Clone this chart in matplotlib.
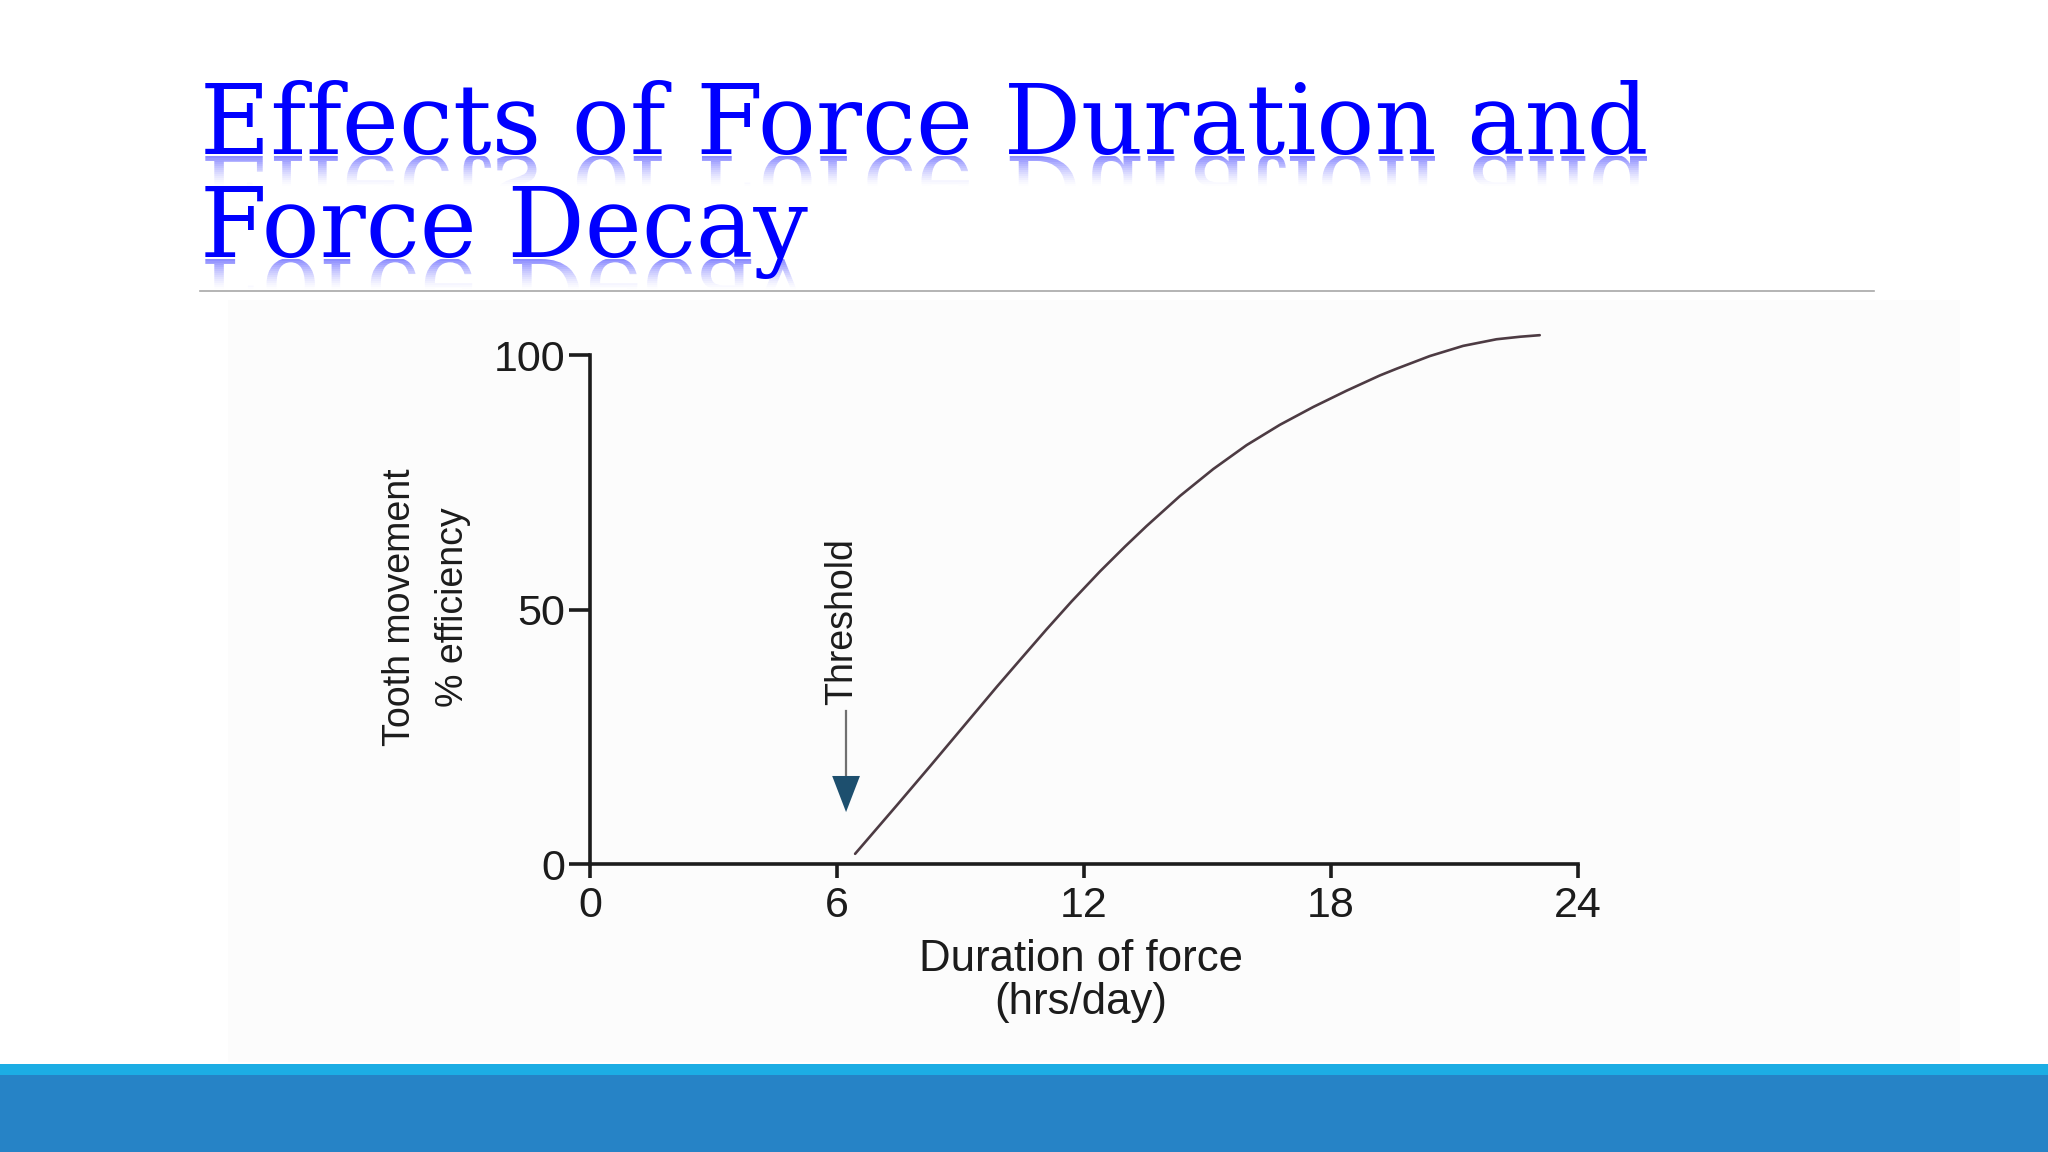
import matplotlib
matplotlib.use("Agg")
import matplotlib.pyplot as plt
from matplotlib.textpath import TextPath
from matplotlib.patches import PathPatch, Rectangle
from matplotlib.lines import Line2D
from matplotlib.font_manager import FontProperties
from matplotlib.transforms import Affine2D, Bbox

# ---------------- data ----------------
title_lines = ["Effects of Force Duration and", "Force Decay"]
hours = [6.44, 7.45, 8.26, 9.07, 9.88, 10.5, 11.09, 11.7, 12.39, 13.0, 13.52,
         14.33, 15.14, 15.95, 16.76, 17.57, 18.38, 19.19, 19.59, 20.40, 21.21,
         22.02, 22.6, 23.07]
efficiency = [2.0, 11.5, 19.2, 27.0, 34.8, 40.6, 46.1, 51.6, 57.5, 62.4, 66.4,
              72.3, 77.6, 82.3, 86.3, 89.8, 93.0, 96.0, 97.3, 99.8, 101.8,
              103.1, 103.6, 103.9]
x_ticks = [0, 6, 12, 18, 24]
y_ticks = [0, 50, 100]
x_label = "Duration of force\n(hrs/day)"
y_label = "Tooth movement\n% efficiency"
threshold_label = "Threshold"
threshold_hours = 6.22
arrow_top = 30.0
arrow_tip = 10.2

# ---------------- figure ----------------
W, H, DPI = 2048, 1152, 100
plt.rcParams["font.family"] = ["Liberation Sans", "DejaVu Sans"]
fig = plt.figure(figsize=(W / DPI, H / DPI), dpi=DPI, facecolor="white")

# very subtle background of the pasted chart picture
fig.add_artist(Rectangle((228 / W, 1 - 1062 / H), (1960 - 228) / W, (1062 - 300) / H,
                         transform=fig.transFigure, facecolor="#fcfcfc",
                         edgecolor="none", zorder=0))

# bottom bands
fig.add_artist(Rectangle((0, 0), 1, (H - 1075) / H, transform=fig.transFigure,
                         facecolor="#2683C6", edgecolor="none", zorder=1))
fig.add_artist(Rectangle((0, (H - 1075) / H), 1, 11 / H, transform=fig.transFigure,
                         facecolor="#1CADE4", edgecolor="none", zorder=1))

# separator under title
fig.add_artist(Line2D([200 / W, 1874 / W], [1 - 291 / H] * 2, transform=fig.transFigure,
                      color="#a8a8a8", lw=1.2))

# ---------------- title with reflection ----------------
title_color = "#0000FF"
title_size = 69.5
title_fp = FontProperties(family="DejaVu Serif", size=title_size)
title_x_px = 200
title_baselines_px = [154, 257]
gap = 2
n_bands, band = 15, 2
for line, base_px in zip(title_lines, title_baselines_px):
    fig.text(title_x_px / W, 1 - base_px / H, line, fontproperties=title_fp,
             color=title_color, ha="left", va="baseline", zorder=3)
    tp = TextPath((0, 0), line, size=title_size * DPI / 72, prop=title_fp)
    ybase = H - base_px
    tr = Affine2D().scale(1, -1).translate(title_x_px, ybase - gap)
    for i in range(n_bands):
        y_top = ybase - gap - i * band
        patch = PathPatch(tp, transform=tr, facecolor=title_color, edgecolor="none",
                          alpha=0.45 * (1 - i / n_bands) ** 1.5, zorder=2)
        patch.set_clip_box(Bbox.from_extents(0, y_top - band, W, y_top))
        fig.add_artist(patch)

# ---------------- chart ----------------
ink = "#1c1c1c"
ax = fig.add_axes([590 / W, 1 - 864 / H, 988 / W, (864 - 324.5) / H])
ax.set_facecolor("none")
ax.plot(hours, efficiency, color="#4d3b43", lw=1.9, solid_joinstyle="round",
        solid_capstyle="round")
ax.set_xlim(0, 24)
ax.set_ylim(0, 106)
ax.spines[["top", "right"]].set_visible(False)
ax.spines["left"].set_bounds(0, 100)
for s in ("left", "bottom"):
    ax.spines[s].set_linewidth(2.6)
    ax.spines[s].set_color(ink)
ax.set_xticks(x_ticks)
ax.set_yticks(y_ticks)
ax.set_xticklabels([str(v) for v in x_ticks])
ax.set_yticklabels([str(v) for v in y_ticks])
ax.tick_params(axis="y", length=15, width=2.6, pad=3, labelsize=31, colors=ink)
ax.tick_params(axis="x", length=10, width=2.6, pad=6, labelsize=31, colors=ink)

ax.set_xlabel(x_label, fontsize=31.5, color=ink, linespacing=1.05)
ax.xaxis.set_label_coords(0.497, -0.217)
ax.xaxis.label.set_va("center")
ax.set_ylabel(y_label, fontsize=27, color=ink, linespacing=1.6)
ax.yaxis.set_label_coords(-0.1655, 0.476)
ax.yaxis.label.set_va("center")
ax.yaxis.label.set_ha("center")

# threshold marker
ax.text(6.13, 31.2, threshold_label, rotation=90, ha="center", va="bottom",
        fontsize=27, color=ink)
ax.plot([threshold_hours, threshold_hours], [arrow_top, arrow_tip + 4],
        color="#707070", lw=1.6)
ax.annotate("", xy=(threshold_hours, arrow_tip), xytext=(threshold_hours, arrow_top),
            arrowprops=dict(arrowstyle="-|>,head_length=2.6,head_width=1.0",
                            mutation_scale=10, color="#1d4f6e", lw=0,
                            shrinkA=0, shrinkB=0))

fig.savefig("out.png", dpi=DPI, facecolor="white")
